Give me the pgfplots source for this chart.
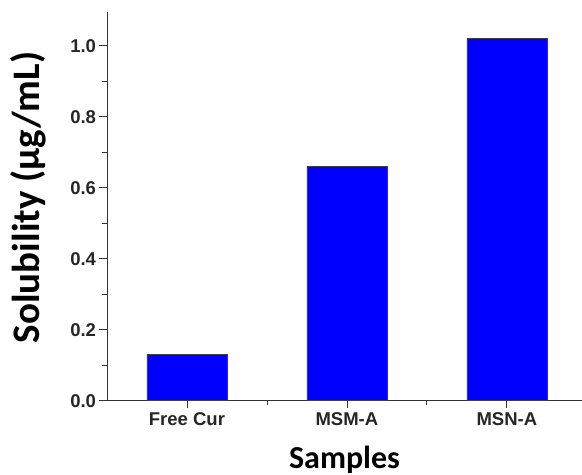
\documentclass[border=0pt]{standalone}
\usepackage{pgfplots}
\pgfplotsset{compat=1.18}
\usepackage{fontspec}
\setmainfont{Liberation Sans}
\newfontfamily\labelfont{Carlito}
\begin{document}
\begin{tikzpicture}
\useasboundingbox (-107bp,-74.3bp) rectangle (475bp,400.7bp);
\begin{axis}[
  at={(0,0)}, anchor=south west,
  scale only axis, width=475bp, height=388.7bp,
  xmin=-0.5, xmax=2.47, ymin=0, ymax=1.095,
  axis x line*=bottom, axis y line*=left,
  axis line style={-, draw=black!80, line width=0.8pt},
  ybar, bar width=0.5,
  ytick={0,0.2,0.4,0.6,0.8,1.0},
  yticklabels={0.0,0.2,0.4,0.6,0.8,1.0},
  minor ytick={0.1,0.3,0.5,0.7,0.9},
  xtick={0,1,2}, xticklabels={Free Cur,MSM-A,MSN-A},
  minor xtick={0.5,1.5},
  tick align=outside,
  major tick length=7.5bp, minor tick length=4.5bp,
  tick style={draw=black!80, line width=0.8pt},
  /pgf/number format/assume math mode=true,
  ticklabel style={font=\fontsize{18.5bp}{20bp}\selectfont\bfseries, text=black!85},
  xticklabel style={yshift=-1bp},
  xlabel={\labelfont\bfseries Samples},
  ylabel={\labelfont\bfseries Solubility (μg/mL)},
  xlabel style={at={(axis description cs:0.5,-0.152)}, anchor=center, inner sep=0pt, font=\fontsize{32bp}{34bp}\selectfont},
  ylabel style={at={(axis description cs:-0.166,0.523)}, anchor=center, font=\fontsize{39bp}{42bp}\selectfont},
]
\addplot[fill=blue, draw=black!75, line width=0.6pt] coordinates {(0,0.13) (1,0.66) (2,1.02)};
\end{axis}
\end{tikzpicture}
\end{document}
